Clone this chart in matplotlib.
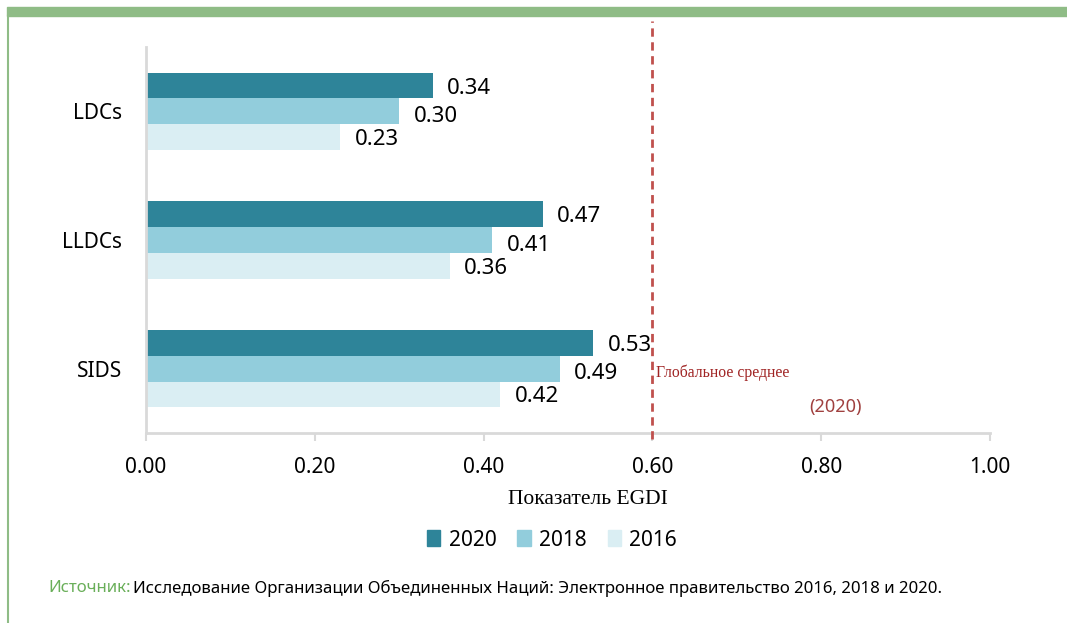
import matplotlib
matplotlib.use("Agg")
import matplotlib.pyplot as plt
from matplotlib.patches import Rectangle, Patch
import numpy as np

# data
groups = ["SIDS", "LLDCs", "LDCs"]
years = ["2020", "2018", "2016"]
egdi_2020 = [0.53, 0.47, 0.34]
egdi_2018 = [0.49, 0.41, 0.30]
egdi_2016 = [0.42, 0.36, 0.23]
global_avg_2020 = 0.60
x_ticks = [0.0, 0.2, 0.4, 0.6, 0.8, 1.0]

colors = ["#2E8499", "#92CDDC", "#DAEEF3"]
sans = "Noto Sans"
serif = "Liberation Serif"

plt.rcParams["font.family"] = [sans, "DejaVu Sans"]

fig = plt.figure(figsize=(10.67, 6.23), dpi=100)

# green frame: top bar and thin left line
green = "#8FBC86"
fig.patches.append(Rectangle((7 / 1067, 1 - 16 / 623), 1.0, 9 / 623,
                             transform=fig.transFigure, color=green, zorder=0))
fig.add_artist(plt.Line2D([8 / 1067, 8 / 1067], [0, 1 - 16 / 623],
                          transform=fig.transFigure, color=green, lw=1.5))

ax = fig.add_axes([146 / 1067, 1 - 433 / 623, 844 / 1067, 386 / 623])

y = np.arange(len(groups))
h = 0.2
series = [egdi_2020, egdi_2018, egdi_2016]
offsets = [h, 0, -h]
label_shift = [-0.02, -0.04, -0.02]
for vals, off, col, yr, sh in zip(series, offsets, colors, years, label_shift):
    ax.barh(y + off, vals, height=h, color=col, label=yr, zorder=2)
    for yi, v in zip(y, vals):
        ax.text(v + 0.017, yi + off + sh, f"{v:.2f}", va="center", ha="left",
                fontsize=16, color="black")

ax.set_xlim(0, 1.0)
ax.set_ylim(-0.5, 2.5)
ax.set_xticks(x_ticks)
ax.set_xticklabels([f"{t:.2f}" for t in x_ticks])
ax.set_yticks(y)
ax.set_yticklabels(groups)
ax.tick_params(axis="x", length=6, width=1.5, color="#D9D9D9", pad=11, labelsize=15)
ax.tick_params(axis="y", length=0, pad=17, labelsize=15)

for s in ["top", "right"]:
    ax.spines[s].set_visible(False)
for s in ["left", "bottom"]:
    ax.spines[s].set_color("#D9D9D9")
    ax.spines[s].set_linewidth(2)

# global average line
ax.plot([global_avg_2020, global_avg_2020], [-0.55, 2.7], color="#C0504D",
        lw=2, ls=(0, (3, 2)), clip_on=False, zorder=3)
ax.text(global_avg_2020 + 0.004, -0.03, "Глобальное среднее", fontsize=11.3,
        family=serif, color="#A02424", va="center", ha="left")
ax.text(0.817, -0.3, "(2020)", fontsize=13, color="#A0403F", va="center", ha="center")

ax.set_xlabel("Показатель EGDI", family=serif, fontsize=15.5, va="center")
ax.xaxis.set_label_coords((588 - 146) / 844, -(499 - 433) / 386)

handles = [Patch(color=c, label=yr) for c, yr in zip(colors, years)]
fig.legend(handles=handles, loc="center", bbox_to_anchor=(552 / 1067, 1 - 540 / 623),
           ncol=3, frameon=False, fontsize=15, handlelength=0.65, handleheight=0.8,
           handletextpad=0.4, columnspacing=1.0)

fig.text(48 / 1067, 1 - 588 / 623, "Источник:", color="#6AAF5A", fontsize=12.1,
         va="center", ha="left")
fig.text(133 / 1067, 1 - 588 / 623,
         "Исследование Организации Объединенных Наций: Электронное правительство 2016, 2018 и 2020.",
         color="black", fontsize=12.1, va="center", ha="left")

fig.savefig("out.png", dpi=100)
